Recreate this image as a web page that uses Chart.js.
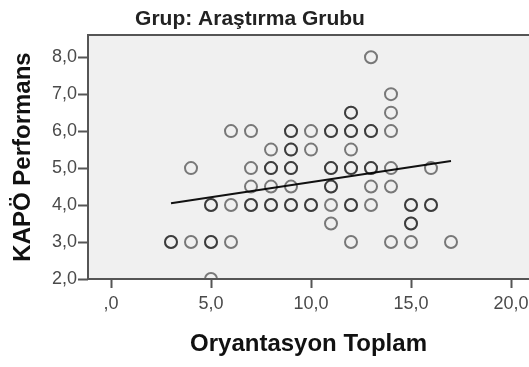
<!DOCTYPE html>
<html>
<head>
<meta charset="utf-8">
<script src="https://cdn.jsdelivr.net/npm/chart.js@4"></script>
<style>
  html, body { margin: 0; padding: 0; background: #fff; }
  #chart { display: block; }
</style>
</head>
<body>
<canvas id="chart" width="529" height="367"></canvas>
<script>
// cases: Oryantasyon Toplam (x) vs KAPÖ Performans (y); repeated pairs are listed twice
let caseX = [
  13,
  14,
  12, 12, 14,
  6, 7, 9, 9, 10, 11, 11, 12, 12, 13, 13, 14,
  8, 9, 9, 10, 12,
  4, 7, 8, 8, 9, 9, 11, 11, 12, 12, 13, 13, 14, 16,
  7, 8, 9, 11, 11, 13, 14,
  5, 5, 6, 7, 7, 8, 8, 9, 9, 10, 10, 11, 12, 12, 13, 15, 15, 16, 16,
  11, 15, 15,
  3, 3, 4, 5, 5, 6, 12, 14, 15, 17,
  5
];
let caseY = [
  8.0,
  7.0,
  6.5, 6.5, 6.5,
  6.0, 6.0, 6.0, 6.0, 6.0, 6.0, 6.0, 6.0, 6.0, 6.0, 6.0, 6.0,
  5.5, 5.5, 5.5, 5.5, 5.5,
  5.0, 5.0, 5.0, 5.0, 5.0, 5.0, 5.0, 5.0, 5.0, 5.0, 5.0, 5.0, 5.0, 5.0,
  4.5, 4.5, 4.5, 4.5, 4.5, 4.5, 4.5,
  4.0, 4.0, 4.0, 4.0, 4.0, 4.0, 4.0, 4.0, 4.0, 4.0, 4.0, 4.0, 4.0, 4.0, 4.0, 4.0, 4.0, 4.0, 4.0,
  3.5, 3.5, 3.5,
  3.0, 3.0, 3.0, 3.0, 3.0, 3.0, 3.0, 3.0, 3.0, 3.0,
  2.0
];

// fit line end points
let fitX = [3, 17];
let fitY = [4.05, 5.19];

let xTicks = [0, 5, 10, 15, 20];
let yTicks = [2, 3, 4, 5, 6, 7, 8];

const FONT = "'Liberation Sans', Arial, sans-serif";

// SPSS style numbers: comma decimal, no leading zero
function spssNum(v) {
  let s = v.toFixed(1).replace(".", ",");
  return s.startsWith("0,") ? s.slice(1) : s;
}

const plotFrame = {
  id: "plotFrame",
  beforeDraw(chart) {
    const { ctx, chartArea: a } = chart;
    ctx.save();
    ctx.fillStyle = "#f0f0f0";
    ctx.fillRect(a.left, a.top, a.right - a.left, a.bottom - a.top);
    ctx.restore();
  },
  afterDraw(chart) {
    const { ctx, chartArea: a } = chart;
    ctx.save();
    ctx.strokeStyle = "#555";
    ctx.lineWidth = 2;
    ctx.strokeRect(a.left, a.top, a.right - a.left + 4, a.bottom - a.top);
    // group title
    ctx.fillStyle = "#222";
    ctx.font = "bold 21px " + FONT;
    ctx.textAlign = "center";
    ctx.textBaseline = "alphabetic";
    ctx.fillText("Grup: Araştırma Grubu", 250, 25);
    ctx.restore();
  }
};

let points = caseX.map((x, i) => ({ x: x, y: caseY[i] }));
let fit = fitX.map((x, i) => ({ x: x, y: fitY[i] }));

new Chart(document.getElementById("chart"), {
  type: "scatter",
  data: {
    datasets: [
      {
        data: points,
        pointStyle: "circle",
        pointRadius: 6,
        pointBorderWidth: 2,
        borderColor: "rgba(0,0,0,0.5)",
        backgroundColor: "rgba(0,0,0,0)",
        // markers on the bottom edge are cut by the frame
        clip: { left: 10, top: 10, right: 10, bottom: 1 }
      },
      {
        type: "line",
        data: fit,
        borderColor: "#111",
        borderWidth: 2,
        pointRadius: 0,
        fill: false
      }
    ]
  },
  options: {
    responsive: false,
    animation: false,
    devicePixelRatio: 1,
    layout: {
      autoPadding: false,
      padding: { top: 35, left: 0, right: 0, bottom: 0 }
    },
    plugins: {
      legend: { display: false },
      tooltip: { enabled: false }
    },
    scales: {
      x: {
        type: "linear",
        min: -1.15,
        max: 20.9,
        afterBuildTicks: s => { s.ticks = xTicks.map(v => ({ value: v })); },
        afterFit: s => {
          s.height = 88;
          // plot runs to the right edge of the canvas
          s.paddingLeft = 0;
          s.paddingRight = 0;
        },
        grid: { drawOnChartArea: false, tickLength: 9, tickColor: "#555", tickWidth: 2 },
        border: { display: false },
        ticks: {
          padding: 5,
          color: "#4a4a4a",
          font: { family: FONT, size: 18 },
          callback: v => spssNum(v)
        },
        title: {
          display: true,
          text: "Oryantasyon Toplam",
          color: "#111",
          font: { family: FONT, size: 24, weight: "bold" },
          padding: { top: 0, bottom: 8 }
        }
      },
      y: {
        type: "linear",
        min: 2,
        max: 8.6,
        afterBuildTicks: s => { s.ticks = yTicks.map(v => ({ value: v })); },
        afterFit: s => { s.width = 88; },
        grid: { drawOnChartArea: false, tickLength: 10, tickColor: "#555", tickWidth: 2 },
        border: { display: false },
        ticks: {
          padding: 1,
          color: "#4a4a4a",
          font: { family: FONT, size: 18 },
          callback: v => spssNum(v)
        },
        title: {
          display: true,
          text: "KAPÖ Performans",
          color: "#111",
          font: { family: FONT, size: 24, weight: "bold" },
          padding: { top: 9, bottom: 0 }
        }
      }
    }
  },
  plugins: [plotFrame]
});
</script>
</body>
</html>
